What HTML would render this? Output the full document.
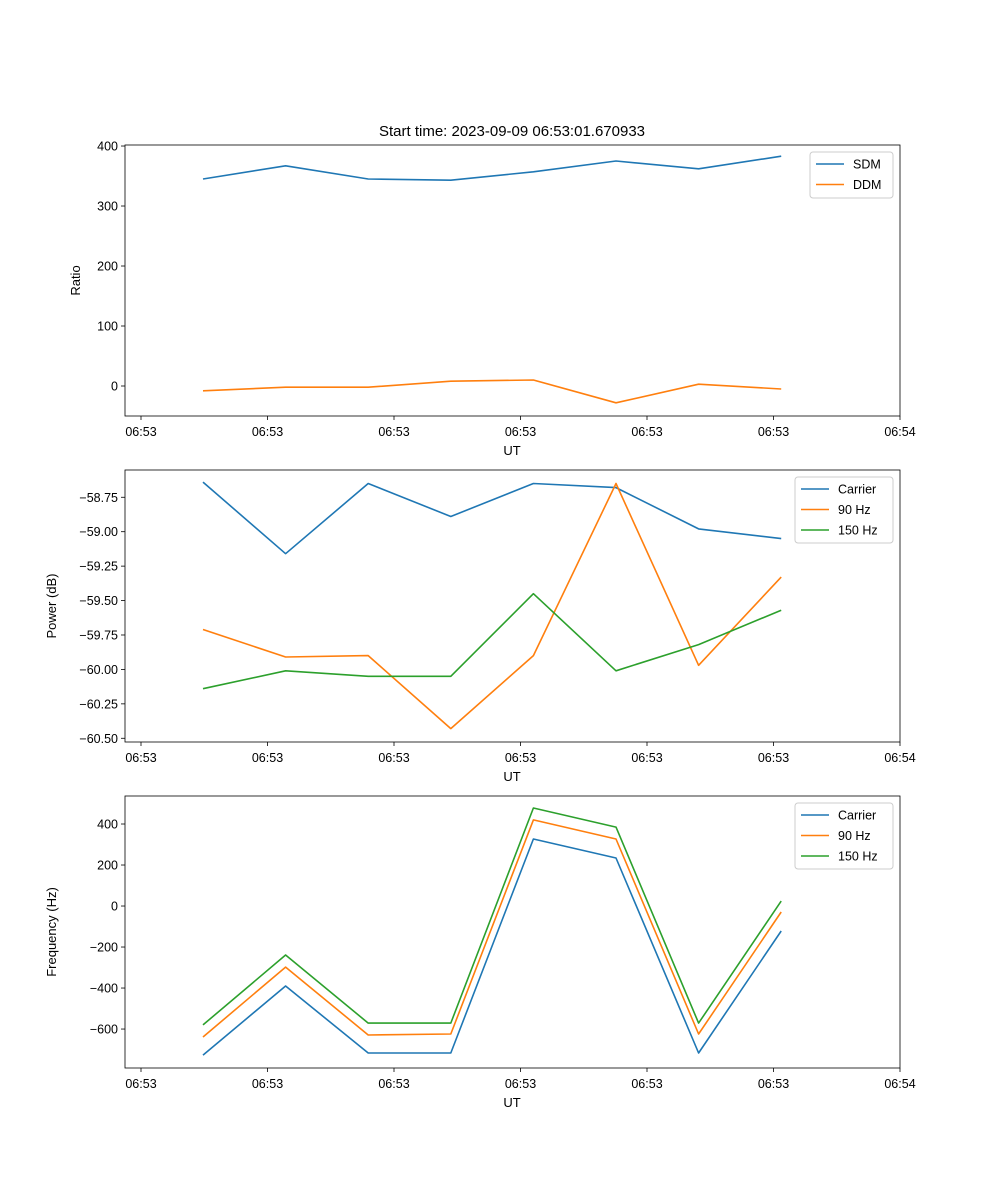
<!DOCTYPE html>
<html><head><meta charset="utf-8">
<style>
html,body{margin:0;padding:0;background:#fff;}
svg{display:block;font-family:"Liberation Sans","DejaVu Sans",sans-serif;}
</style></head>
<body>
<svg id="fig" width="1000" height="1200" viewBox="0 0 1000 1200">
<rect width="1000" height="1200" fill="#fff"/>
<text x="512" y="136" font-size="15" text-anchor="middle">Start time: 2023-09-09 06:53:01.670933</text>
</svg>
<script>
const times = [4.9, 11.43, 17.96, 24.49, 31.02, 37.55, 44.08, 50.61];
const xTickVals = [0, 10, 20, 30, 40, 50, 60];
const xTickLabels = ["06:53","06:53","06:53","06:53","06:53","06:53","06:54"];

const sdm = [345, 367, 345, 343, 357, 375, 362, 383];
const ddm = [-8, -2, -2, 8, 10, -28, 3, -5];
const ratioTicks = [0, 100, 200, 300, 400];

const pwrCarrier = [-58.64, -59.16, -58.65, -58.89, -58.65, -58.68, -58.98, -59.05];
const pwr90 = [-59.71, -59.91, -59.90, -60.43, -59.90, -58.65, -59.97, -59.33];
const pwr150 = [-60.14, -60.01, -60.05, -60.05, -59.45, -60.01, -59.82, -59.57];
const pwrTicks = [-58.75, -59.00, -59.25, -59.50, -59.75, -60.00, -60.25, -60.50];

const frqCarrier = [-727, -390, -717, -717, 327, 234, -717, -122];
const frq90 = [-639, -298, -629, -624, 420, 327, -624, -29];
const frq150 = [-580, -239, -571, -571, 478, 385, -571, 24];
const frqTicks = [-600, -400, -200, 0, 200, 400];

const NS = "http://www.w3.org/2000/svg";
const svg = document.getElementById("fig");
const L = 125, R = 900;
function xs(t){ return 141 + (t/10)*126.5; }
function el(tag, attrs, parent){
  const e = document.createElementNS(NS, tag);
  for (const k in attrs) e.setAttribute(k, attrs[k]);
  (parent||svg).appendChild(e);
  return e;
}
function panel(name, top, bottom, ymin, ymax, yticks, fmt, ylabel, series, legendW){
  const g = el("g", {});
  
  
  const ys = v => bottom - (v - ymin)/(ymax - ymin)*(bottom - top);
  yticks.forEach(v => {
    const y = ys(v);
    const tk = el("line", {x1:L-4, x2:L, y1:y, y2:y, stroke:"#000", "stroke-width":0.8}, g);
    
    
    const t = el("text", {x:L-7, y:y+4.5, "font-size":12.5, "text-anchor":"end"}, g);
    
    
    t.textContent = fmt(v);
  });
  xTickVals.forEach((v,i) => {
    const x = xs(v);
    const tk = el("line", {x1:x, x2:x, y1:bottom, y2:bottom+4, stroke:"#000", "stroke-width":0.8}, g);
    
    
    const t = el("text", {x:x, y:bottom+20, "font-size":12.5, "text-anchor":"middle"}, g);
    
    
    t.textContent = xTickLabels[i];
  });
  const xl = el("text", {x:512, y:bottom+39, "font-size":13, "text-anchor":"middle"}, g);
  
  
  xl.textContent = "UT";
  const cy = (top+bottom)/2;
  const yl = el("text", {x:0, y:0, "font-size":13, "text-anchor":"middle", transform:`translate(${name==="ratio-panel"?80:56},${cy}) rotate(-90)`}, g);
  
  
  yl.textContent = ylabel;
  series.forEach(s => {
    const pts = s.data.map((v,i) => xs(times[i]).toFixed(1)+","+ys(v).toFixed(1)).join(" ");
    const p = el("polyline", {points:pts, fill:"none", stroke:s.color, "stroke-width":1.6, "stroke-linejoin":"round"}, g);
    
    
  });
  const fr = el("rect", {x:L, y:top, width:R-L, height:bottom-top, fill:"none", stroke:"#000", "stroke-width":0.8}, g);
  
  
  const lg = el("g", {}, g);
  
  
  const lx = R - 7 - legendW, ly = top + 7;
  el("rect", {x:lx, y:ly, width:legendW, height:6 + series.length*20, rx:3, fill:"#fff", "fill-opacity":0.8, stroke:"#ccc"}, lg);
  series.forEach((s,i) => {
    const yy = ly + 12 + i*20.5;
    const ln = el("line", {x1:lx+6, x2:lx+34, y1:yy, y2:yy, stroke:s.color, "stroke-width":1.6}, lg);
    
    
    const t = el("text", {x:lx+43, y:yy+4.5, "font-size":12.5}, lg);
    
    
    t.textContent = s.label;
  });
}
const B="#1f77b4", O="#ff7f0e", G="#2ca02c";
panel("ratio-panel", 145, 416, -50, 401.7, ratioTicks, v=>v<0?"\u2212"+(-v):String(v), "Ratio",
  [{id:"sdm-line",label:"SDM",data:sdm,color:B},{id:"ddm-line",label:"DDM",data:ddm,color:O}], 83);
panel("power-panel", 470, 742, -60.527, -58.552, pwrTicks, v=>"\u2212"+(-v).toFixed(2), "Power (dB)",
  [{id:"power-carrier-line",label:"Carrier",data:pwrCarrier,color:B},{id:"power-90hz-line",label:"90 Hz",data:pwr90,color:O},{id:"power-150hz-line",label:"150 Hz",data:pwr150,color:G}], 98);
panel("frequency-panel", 796, 1068, -790, 536.6, frqTicks, v=>v<0?"\u2212"+(-v):String(v), "Frequency (Hz)",
  [{id:"freq-carrier-line",label:"Carrier",data:frqCarrier,color:B},{id:"freq-90hz-line",label:"90 Hz",data:frq90,color:O},{id:"freq-150hz-line",label:"150 Hz",data:frq150,color:G}], 98);
</script>
</body></html>
